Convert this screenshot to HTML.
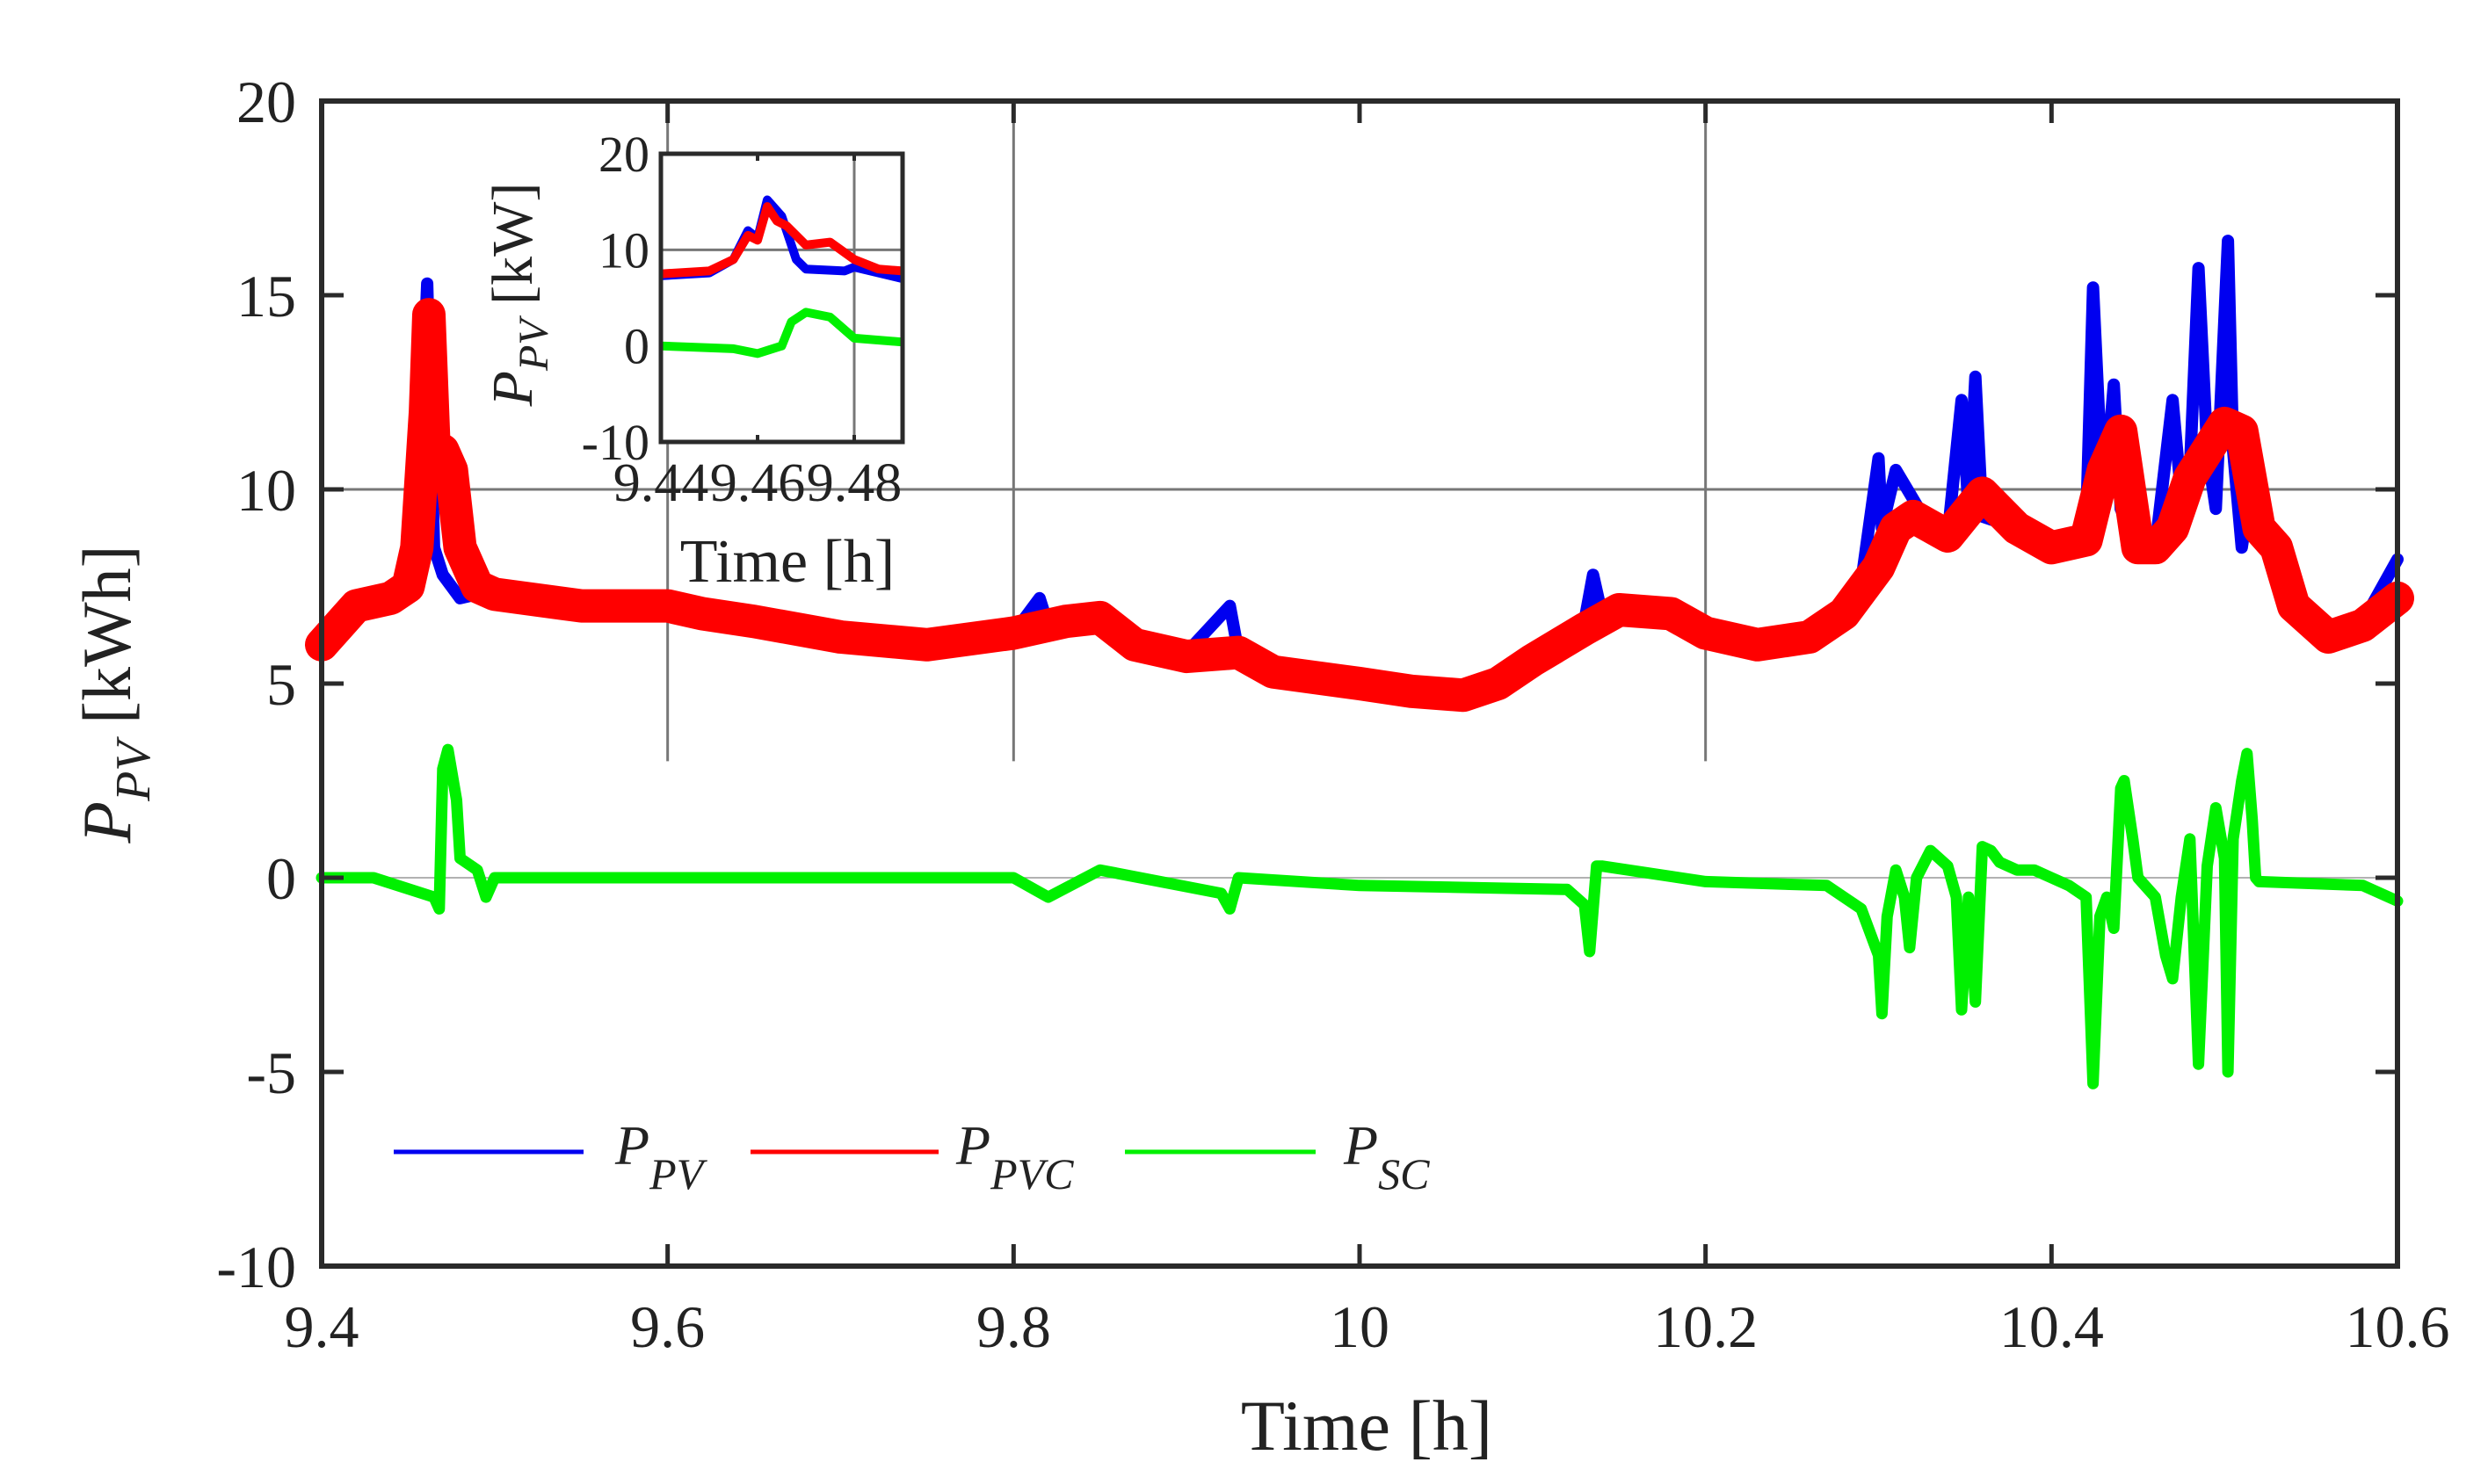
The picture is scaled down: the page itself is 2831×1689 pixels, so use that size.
<!DOCTYPE html>
<html><head><meta charset="utf-8">
<style>
html,body{margin:0;padding:0;background:#fff;}
svg{display:block;}
text{font-family:"Liberation Serif",serif;fill:#222;}
</style></head>
<body>
<svg id="chart" width="2831" height="1689" viewBox="0 0 2831 1689" xmlns="http://www.w3.org/2000/svg">
<rect x="0" y="0" width="2831" height="1689" fill="#fff"/>
<g id="main-grid"></g>
<g id="main-series"></g>
<g id="main-axes"></g>
<g id="inset"></g>
<text x="1555" y="1650" font-size="82" text-anchor="middle">Time [h]</text>
<text transform="translate(148,790) rotate(-90)" font-size="78" text-anchor="middle"><tspan font-style="italic">P</tspan><tspan font-style="italic" font-size="56" dy="22">PV</tspan><tspan dy="-22">  [kWh]</tspan></text>
<g id="legend"></g>
</svg>
<script>
// ---- main chart data ----
const xTicks = [9.4, 9.6, 9.8, 10, 10.2, 10.4, 10.6];
const xTickLabels = ["9.4", "9.6", "9.8", "10", "10.2", "10.4", "10.6"];
const yTicks = [-10, -5, 0, 5, 10, 15, 20];
const yTickLabels = ["-10", "-5", "0", "5", "10", "15", "20"];
const pvcT = [9.40,9.41,9.42,9.44,9.45,9.455,9.46,9.462,9.465,9.47,9.475,9.48,9.49,9.5,9.55,9.6,9.62,9.65,9.7,9.75,9.8,9.83,9.85,9.87,9.9,9.93,9.95,10.0,10.03,10.06,10.08,10.1,10.13,10.15,10.18,10.2,10.23,10.26,10.28,10.3,10.31,10.32,10.34,10.36,10.38,10.4,10.42,10.43,10.44,10.45,10.46,10.47,10.48,10.5,10.51,10.52,10.53,10.54,10.56,10.58,10.6];
const pvcV = [6.0,6.5,7.0,7.2,7.5,8.5,12,14.5,11,11,10.5,8.5,7.5,7.3,7.0,7.0,6.8,6.6,6.2,6.0,6.3,6.6,6.7,6.0,5.7,5.8,5.3,5.0,4.8,4.7,5.0,5.6,6.4,6.9,6.8,6.3,6.0,6.2,6.8,8.0,9.0,9.3,8.8,9.9,9.0,8.5,8.7,10.5,11.5,8.5,8.5,9.0,10.3,11.7,11.5,9.0,8.5,7.0,6.2,6.5,7.2];
const pvT = [9.40,9.41,9.42,9.44,9.45,9.455,9.458,9.461,9.465,9.47,9.48,9.49,9.5,9.55,9.6,9.65,9.7,9.75,9.8,9.815,9.82,9.85,9.87,9.9,9.925,9.93,9.95,10.0,10.03,10.06,10.08,10.1,10.13,10.135,10.14,10.15,10.18,10.2,10.23,10.26,10.28,10.29,10.3,10.302,10.31,10.33,10.34,10.348,10.352,10.356,10.36,10.38,10.4,10.42,10.424,10.43,10.436,10.44,10.45,10.46,10.47,10.475,10.48,10.485,10.49,10.495,10.502,10.505,10.51,10.515,10.52,10.53,10.54,10.56,10.58,10.6];
const pvV = [6.0,6.5,7.0,7.2,7.5,8.5,12,15.3,8.5,7.8,7.2,7.3,7.2,7.0,7.2,6.6,6.2,6.0,6.3,7.2,6.5,6.7,6.0,5.8,7.0,5.8,5.4,5.1,4.9,4.8,5.1,5.8,6.6,7.8,6.8,6.8,6.8,6.3,6.0,6.3,7.0,7.6,10.8,9.0,10.5,9.0,8.8,12.3,9.5,12.9,9.3,9.0,8.5,9.0,15.2,9.5,12.7,9.5,8.5,8.5,12.3,9.8,10.5,15.7,11,9.5,16.4,11,8.5,10.0,9.0,8.5,7.0,6.3,6.6,8.2];
const scT = [9.40,9.43,9.465,9.468,9.47,9.473,9.478,9.48,9.49,9.495,9.5,9.6,9.7,9.8,9.82,9.85,9.92,9.925,9.93,10.0,10.12,10.13,10.133,10.137,10.14,10.2,10.27,10.29,10.3,10.302,10.305,10.31,10.315,10.318,10.322,10.33,10.34,10.345,10.348,10.352,10.356,10.36,10.365,10.37,10.38,10.39,10.40,10.41,10.42,10.424,10.428,10.432,10.436,10.44,10.442,10.447,10.45,10.46,10.466,10.47,10.475,10.48,10.485,10.49,10.495,10.5,10.502,10.505,10.51,10.513,10.516,10.518,10.52,10.58,10.6];
const scV = [0.0,0.0,-0.5,-0.8,2.8,3.3,2.0,0.5,0.2,-0.5,0.0,0.0,0.0,0.0,-0.5,0.2,-0.4,-0.8,0.0,-0.2,-0.3,-0.7,-1.9,0.3,0.3,-0.1,-0.2,-0.8,-2.0,-3.5,-1.0,0.2,-0.5,-1.8,0.0,0.7,0.3,-0.5,-3.4,-0.5,-3.2,0.8,0.7,0.4,0.2,0.2,0.0,-0.2,-0.5,-5.3,-1.0,-0.5,-1.3,2.3,2.5,1.0,0.0,-0.5,-2.0,-2.6,-0.5,1.0,-4.8,0.3,1.8,0.5,-5.0,1.0,2.5,3.2,1.5,0.0,-0.1,-0.2,-0.6];
// ---- inset data ----
const inXTicks = [9.44, 9.46, 9.48];
const inXTickLabels = ["9.44", "9.46", "9.48"];
const inYTicks = [-10, 0, 10, 20];
const inYTickLabels = ["-10", "0", "10", "20"];
const inPvcT = [9.44,9.45,9.455,9.458,9.46,9.462,9.464,9.466,9.47,9.475,9.48,9.485,9.49];
const inPvcV = [7.5,7.8,9,11.5,11,14.5,13,12.5,10.5,10.8,9,8,7.8];
const inPvT = [9.44,9.45,9.455,9.458,9.46,9.462,9.465,9.468,9.47,9.478,9.48,9.49];
const inPvV = [7.3,7.6,9,12,11.2,15.2,13.5,9,8,7.8,8.2,7];
const inScT = [9.44,9.455,9.46,9.465,9.467,9.47,9.475,9.48,9.49];
const inScV = [0,-0.3,-0.8,0,2.5,3.5,3,0.8,0.4];

const NS = "http://www.w3.org/2000/svg";
function mk(tag, attrs, parent){const e=document.createElementNS(NS,tag);for(const k in attrs)e.setAttribute(k,attrs[k]);parent.appendChild(e);return e;}

const L=366, R=2728, T=115, B=1441;
const xS = v => L + (v-9.4)/(10.6-9.4)*(R-L);
const yS = v => B - (v+10)/30*(B-T);
function pathOf(ts, vs, xs, ys){return ts.map((t,i)=>(i?"L":"M")+xs(t).toFixed(1)+","+ys(vs[i]).toFixed(1)).join(" ");}

const grid=document.getElementById("main-grid");
[9.6,9.8,10.2].forEach(g=>{
  const l=mk("line",{x1:xS(g),x2:xS(g),y1:T,y2:yS(3),stroke:"#777","stroke-width":3},grid);
  
  
});
const hg=mk("line",{x1:L,x2:R,y1:yS(10),y2:yS(10),stroke:"#777","stroke-width":3},grid);


const hg0=mk("line",{x1:L,x2:R,y1:yS(0),y2:yS(0),stroke:"#999","stroke-width":1.5},grid);



const ser=document.getElementById("main-series");
const sc=mk("path",{d:pathOf(scT,scV,xS,yS),fill:"none",stroke:"#00f000","stroke-width":13,"stroke-linejoin":"round","stroke-linecap":"round"},ser);


const pv=mk("path",{d:pathOf(pvT,pvV,xS,yS),fill:"none",stroke:"#0000f0","stroke-width":14,"stroke-linejoin":"round","stroke-linecap":"round"},ser);


const pvc=mk("path",{d:pathOf(pvcT,pvcV,xS,yS),fill:"none",stroke:"#ff0000","stroke-width":38,"stroke-linejoin":"round","stroke-linecap":"round"},ser);



const ax=document.getElementById("main-axes");
const fr=mk("rect",{x:L,y:T,width:R-L,height:B-T,fill:"none",stroke:"#2a2a2a","stroke-width":6},ax);


xTicks.forEach((v,i)=>{
  const x=xS(v);
  const t1=mk("line",{x1:x,x2:x,y1:B,y2:B-25,stroke:"#2a2a2a","stroke-width":5},ax);
  
  
  const t2=mk("line",{x1:x,x2:x,y1:T,y2:T+25,stroke:"#2a2a2a","stroke-width":5},ax);
  
  
  const lb=mk("text",{x:x,y:1533,"font-size":68,"text-anchor":"middle"},ax);
  lb.textContent=xTickLabels[i];
  
  
});
yTicks.forEach((v,i)=>{
  const y=yS(v);
  const t1=mk("line",{x1:L,x2:L+25,y1:y,y2:y,stroke:"#2a2a2a","stroke-width":5},ax);
  
  
  const t2=mk("line",{x1:R,x2:R-25,y1:y,y2:y,stroke:"#2a2a2a","stroke-width":5},ax);
  
  
  const lb=mk("text",{x:337,y:y+24,"font-size":68,"text-anchor":"end"},ax);
  lb.textContent=yTickLabels[i];
  
  
});

const lg=document.getElementById("legend");
[["#0000f0",448,664,700,"PV","legend-entry-p-pv"],["#ff0000",854,1068,1088,"PVC","legend-entry-p-pvc"],["#00f000",1280,1497,1529,"SC","legend-entry-p-sc"]].forEach(e=>{
  const g=mk("g",{},lg);
  
  
  mk("line",{x1:e[1],x2:e[2],y1:1311,y2:1311,stroke:e[0],"stroke-width":5},g);
  const t=mk("text",{x:e[3],y:1325,"font-size":64,"font-style":"italic"},g);
  t.innerHTML='P<tspan font-size="50" dy="28">'+e[4]+'</tspan>';
});

const IL=752, IR=1027, IT=175, IB=503;
const ixS = v => IL + (v-9.44)/(9.49-9.44)*(IR-IL);
const iyS = v => IB - (v+10)/30*(IB-IT);
const ins=document.getElementById("inset");
mk("rect",{x:IL,y:IT,width:IR-IL,height:IB-IT,fill:"#fff"},ins);
const ig1=mk("line",{x1:IL,x2:IR,y1:iyS(10),y2:iyS(10),stroke:"#777","stroke-width":3},ins);


const ig2=mk("line",{x1:ixS(9.48),x2:ixS(9.48),y1:IT,y2:IB,stroke:"#777","stroke-width":3},ins);


const isc=mk("path",{d:pathOf(inScT,inScV,ixS,iyS),fill:"none",stroke:"#00f000","stroke-width":10,"stroke-linejoin":"round"},ins);


const ipv=mk("path",{d:pathOf(inPvT,inPvV,ixS,iyS),fill:"none",stroke:"#0000f0","stroke-width":10,"stroke-linejoin":"round"},ins);


const ipvc=mk("path",{d:pathOf(inPvcT,inPvcV,ixS,iyS),fill:"none",stroke:"#ff0000","stroke-width":10,"stroke-linejoin":"round"},ins);


const ifr=mk("rect",{x:IL,y:IT,width:IR-IL,height:IB-IT,fill:"none",stroke:"#2a2a2a","stroke-width":5},ins);


inXTicks.forEach((v,i)=>{
  const x=ixS(v);
  mk("line",{x1:x,x2:x,y1:IB,y2:IB-8,stroke:"#2a2a2a","stroke-width":4},ins);
  mk("line",{x1:x,x2:x,y1:IT,y2:IT+8,stroke:"#2a2a2a","stroke-width":4},ins);
  const lb=mk("text",{x:x,y:570,"font-size":62,"text-anchor":"middle"},ins);
  lb.textContent=inXTickLabels[i];
  
  
});
inYTicks.forEach((v,i)=>{
  const y=iyS(v);
  const lb=mk("text",{x:739,y:y+20,"font-size":58,"text-anchor":"end"},ins);
  lb.textContent=inYTickLabels[i];
  
  
});
const ixt=mk("text",{x:896,y:662,"font-size":70,"text-anchor":"middle"},ins);
ixt.textContent="Time [h]";


const iyt=mk("text",{transform:"translate(605,335) rotate(-90)","font-size":66,"text-anchor":"middle"},ins);
iyt.innerHTML='<tspan font-style="italic">P</tspan><tspan font-style="italic" font-size="48" dy="18">PV</tspan><tspan dy="-18"> [kW]</tspan>';


</script>
</body></html>
